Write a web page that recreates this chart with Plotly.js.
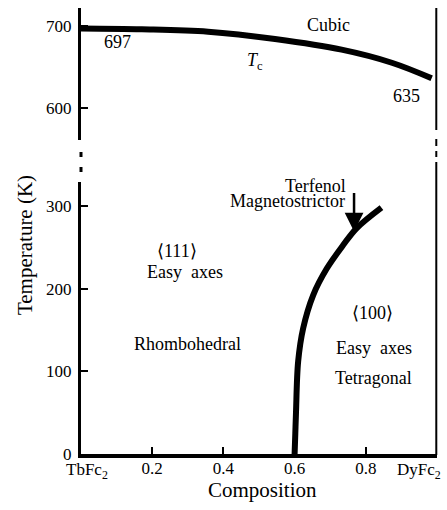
<!DOCTYPE html>
<html>
<head>
<meta charset="utf-8">
<script src="https://cdn.plot.ly/plotly-3.0.1.min.js"></script>
<style>html,body{margin:0;padding:0;background:#fff;}#chart{width:447px;height:510px;}</style>
</head>
<body>
<div id="chart"></div>
<script>
// Curie temperature line (upper panel)
var tcComposition = [0, 0.171, 0.357, 0.545, 0.732, 0.873, 0.985];
var tcTemperature = [697, 696, 693, 684, 671, 655, 636];

// Spin-reorientation boundary (lower panel)
var spinComposition = [0.600, 0.602, 0.604, 0.610, 0.624, 0.652, 0.690, 0.737, 0.774, 0.844];
var spinTemperature = [0, 25, 51, 112, 152, 192, 224, 253, 273, 298];

// Terfenol arrow target
var terfenolPoint = [0.767, 269];

// Tick labels
var xTickVals = [0.2, 0.4, 0.6, 0.8];
var xTickText = ['0.2', '0.4', '0.6', '0.8'];
var lowerTickVals = [0, 100, 200, 300];
var upperTickVals = [600, 700];
var endLabels = ['TbFc<sub>2</sub>', 'DyFc<sub>2</sub>'];

var serif = 'Liberation Serif';
var black = '#000';

var traces = [
  {x: tcComposition, y: tcTemperature, xaxis: 'x', yaxis: 'y2', mode: 'lines',
   line: {color: black, width: 6, shape: 'spline'}, hoverinfo: 'skip'},
  {x: spinComposition, y: spinTemperature, xaxis: 'x', yaxis: 'y', mode: 'lines',
   line: {color: black, width: 6, shape: 'spline'}, hoverinfo: 'skip'}
];

function ann(text, x, y, yref, extra) {
  var a = {text: text, x: x, y: y, xref: 'x', yref: yref, showarrow: false,
           font: {family: serif, size: 18, color: black}, xanchor: 'center', yanchor: 'middle'};
  for (var k in extra) a[k] = extra[k];
  return a;
}

function px2paper(py) { return (454 - py) / 446; }
var rightX = 0.998;
function vline(x, p0, p1, w) {
  return {type: 'line', xref: 'paper', yref: 'paper', x0: x, x1: x,
          y0: px2paper(p0), y1: px2paper(p1), line: {color: black, width: w}};
}

var tickFont = {family: serif, size: 17, color: black};

var layout = {
  width: 447, height: 510,
  margin: {l: 81, r: 10, t: 8, b: 56},
  paper_bgcolor: '#fff', plot_bgcolor: '#fff',
  showlegend: false,
  font: {family: serif, size: 17, color: black},
  xaxis: {range: [0, 1], domain: [0, 1], anchor: 'y', showgrid: false, zeroline: false,
          showline: true, linewidth: 4, linecolor: black,
          tickvals: xTickVals, ticktext: xTickText, ticks: 'inside', ticklen: 7, tickwidth: 2,
          tickcolor: black, tickfont: tickFont, ticklabelstandoff: -4},
  yaxis: {range: [0, 329], domain: [0, 272 / 446], anchor: 'x', showgrid: false, zeroline: false,
          showline: true, linewidth: 3, linecolor: black,
          tickvals: lowerTickVals, ticks: 'inside', ticklen: 7, tickwidth: 2, tickcolor: black,
          tickfont: tickFont, ticklabelstandoff: 3},
  yaxis2: {range: [560.5, 722], domain: [314 / 446, 1], anchor: 'x', showgrid: false, zeroline: false,
           showline: true, linewidth: 3, linecolor: black,
           tickvals: upperTickVals, ticks: 'inside', ticklen: 7, tickwidth: 2, tickcolor: black,
           tickfont: tickFont, ticklabelstandoff: 3},
  shapes: [
    vline(0, 152, 157, 3), vline(0, 167, 172, 3),
    vline(rightX, 8, 130, 2), vline(rightX, 139, 146, 2), vline(rightX, 151, 157, 2), vline(rightX, 162, 455, 2)
  ],
  annotations: [
    ann('Cubic', 0.694, 701, 'y2'),
    ann('697', 0.102, 680, 'y2'),
    ann('<i>T</i><sub>c</sub>', 0.489, 656, 'y2'),
    ann('635', 0.915, 614, 'y2'),
    ann('\u27e8111\u27e9', 0.27, 245, 'y'),
    ann('Easy  axes', 0.293, 220, 'y'),
    ann('Rhombohedral', 0.298, 133, 'y'),
    ann('\u27e8100\u27e9', 0.82, 170, 'y'),
    ann('Easy  axes', 0.823, 128, 'y'),
    ann('Tetragonal', 0.823, 92, 'y'),
    ann('Terfenol', 0.750, 324, 'y', {xanchor: 'right'}),
    ann('Magnetostrictor', 0.748, 306, 'y', {xanchor: 'right'}),
    {text: '', x: terfenolPoint[0], y: terfenolPoint[1], xref: 'x', yref: 'y', showarrow: true,
     ax: 0, ay: -40, arrowhead: 2, arrowwidth: 2.5, arrowsize: 1.5, arrowcolor: black, standoff: 0},
    {text: endLabels[0], x: 0.018, y: px2paper(471), xref: 'x', yref: 'paper', showarrow: false,
     font: tickFont, xanchor: 'center', yanchor: 'middle'},
    {text: endLabels[1], x: 0.949, y: px2paper(471), xref: 'x', yref: 'paper', showarrow: false,
     font: tickFont, xanchor: 'center', yanchor: 'middle'},
    {text: 'Composition', x: 0.511, y: px2paper(490), xref: 'paper', yref: 'paper', showarrow: false,
     font: {family: serif, size: 21, color: black}, xanchor: 'center', yanchor: 'middle'},
    {text: 'Temperature (K)', x: -0.157, y: px2paper(245), xref: 'paper', yref: 'paper', showarrow: false,
     textangle: -90, font: {family: serif, size: 21, color: black}, xanchor: 'center', yanchor: 'middle'}
  ]
};

Plotly.newPlot('chart', traces, layout, {staticPlot: true, displayModeBar: false});
</script>
</body>
</html>
